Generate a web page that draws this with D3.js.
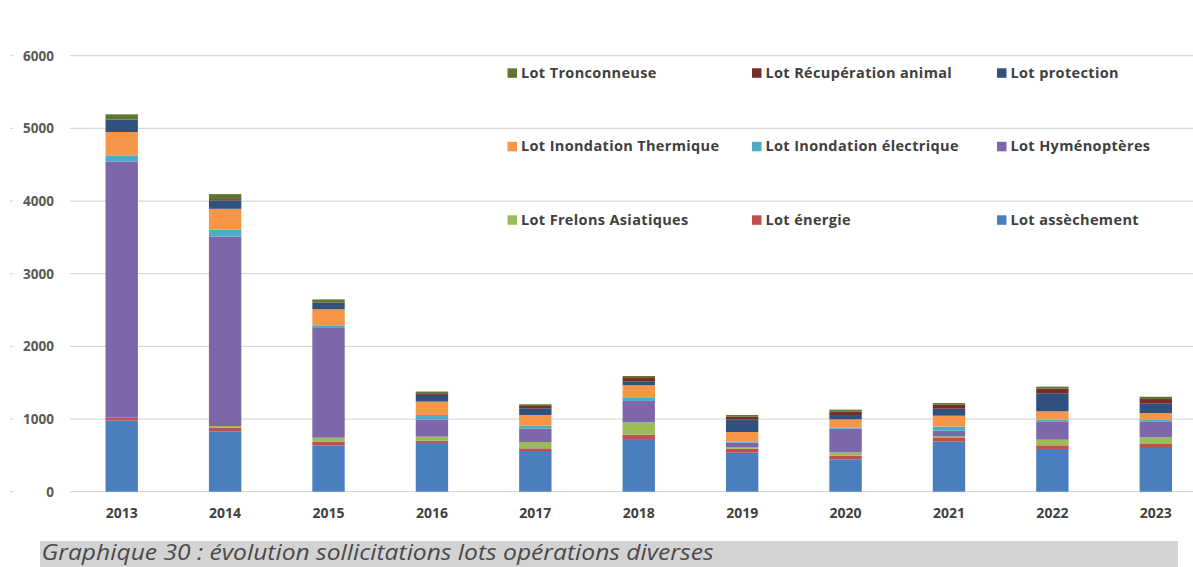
<!DOCTYPE html>
<html lang="fr">
<head>
<meta charset="utf-8">
<script src="https://cdn.jsdelivr.net/npm/d3@7"></script>
<style>
  html, body { margin: 0; padding: 0; background: #ffffff; }
  svg { display: block; }
</style>
</head>
<body>
<svg id="chart" width="1193" height="567"></svg>
<script>
// Années et sollicitations par lot (empilées de bas en haut)
const years = ["2013","2014","2015","2016","2017","2018","2019","2020","2021","2022","2023"];
const assechement    = [978, 826, 638, 671, 560, 725, 537, 445, 689, 588, 601];
const energie        = [41, 55, 50, 32, 37, 60, 55, 50, 50, 50, 55];
const frelons        = [0, 23, 55, 55, 87, 170, 18, 46, 23, 78, 92];
const hymenopteres   = [3526, 2608, 1510, 234, 184, 294, 64, 326, 78, 252, 220];
const inondElec      = [83, 92, 37, 64, 41, 41, 18, 18, 55, 23, 18];
const inondTherm     = [322, 289, 220, 184, 147, 174, 129, 110, 151, 115, 96];
const protection     = [170, 115, 87, 92, 92, 50, 170, 60, 96, 248, 129];
const recupAnimal    = [0, 18, 8, 23, 32, 50, 41, 46, 55, 64, 64];
const tronconneuse   = [73, 69, 41, 23, 23, 28, 23, 28, 23, 28, 32];
const yTicks = [0, 1000, 2000, 3000, 4000, 5000, 6000];

const series = [
  { key: "asse", name: "Lot assèchement", values: assechement, color: "#4A7EBF" },
  { key: "ener", name: "Lot énergie", values: energie, color: "#C0504D" },
  { key: "frel", name: "Lot Frelons Asiatiques", values: frelons, color: "#9BBB59" },
  { key: "hyme", name: "Lot Hyménoptères", values: hymenopteres, color: "#7D66A9" },
  { key: "inel", name: "Lot Inondation électrique", values: inondElec, color: "#4BACC6" },
  { key: "inth", name: "Lot Inondation Thermique", values: inondTherm, color: "#F79646" },
  { key: "prot", name: "Lot protection", values: protection, color: "#30507E" },
  { key: "recu", name: "Lot Récupération animal", values: recupAnimal, color: "#772C2A" },
  { key: "tron", name: "Lot Tronconneuse", values: tronconneuse, color: "#5F7530" }
];

const table = years.map((y, i) => {
  const row = { year: y };
  series.forEach(s => { row[s.key] = s.values[i]; });
  return row;
});

const svg = d3.select("#chart");
const fontBold = "'Open Sans', sans-serif";

const x = d3.scaleBand().domain(years).range([70, 1207.5]).paddingInner(0.687).paddingOuter(0.3435);
const y = d3.scaleLinear().domain([0, 6000]).range([491.7, 55.7]);

// Quadrillage horizontal
svg.append("g").selectAll("line").data(yTicks).join("line")
  .attr("x1", 70).attr("x2", 1193)
  .attr("y1", d => y(d)).attr("y2", d => y(d))
  .attr("stroke", "#d9d9d9").attr("stroke-width", 1.3);

// Axe vertical : libellés
const yAxis = d3.axisLeft(y).tickValues(yTicks).tickSize(0).tickPadding(0).tickFormat(d3.format("d"));
const gy = svg.append("g").attr("transform", "translate(54,0)").call(yAxis);
gy.select(".domain").remove();
gy.selectAll("text")
  .attr("font-family", fontBold).attr("font-weight", "bold")
  .attr("font-size", 13.5).attr("fill", "#595959");
// petits repères à gauche
svg.append("g").selectAll("line").data(yTicks).join("line")
  .attr("x1", 10).attr("x2", 13)
  .attr("y1", d => y(d)).attr("y2", d => y(d))
  .attr("stroke", "#cfcfcf").attr("stroke-width", 1);

// Barres empilées
const stacked = d3.stack().keys(series.map(s => s.key))(table);
svg.append("g").selectAll("g").data(stacked).join("g")
  .attr("fill", (d, i) => series[i].color)
  .selectAll("rect").data(d => d).join("rect")
  .attr("x", d => x(d.data.year))
  .attr("width", x.bandwidth())
  .attr("y", d => y(d[1]))
  .attr("height", d => Math.max(0, y(d[0]) - y(d[1])));

// Axe horizontal : années
const xAxis = d3.axisBottom(x).tickSize(0).tickPadding(0);
const gx = svg.append("g").attr("transform", "translate(0,517.5)").call(xAxis);
gx.select(".domain").remove();
gx.selectAll("text")
  .attr("dy", 0)
  .attr("font-family", fontBold).attr("font-weight", "bold")
  .attr("font-size", 14).attr("fill", "#404040");

// Légende sur trois lignes
const legendOrder = [
  ["tron", "recu", "prot"],
  ["inth", "inel", "hyme"],
  ["frel", "ener", "asse"]
];
const colX = [507.5, 752, 997];
const rowY = [73, 146.5, 220];
const legendItems = [];
legendOrder.forEach((row, r) => row.forEach((k, c) => {
  legendItems.push({ s: series.find(s => s.key === k), x: colX[c], y: rowY[r] });
}));
const lg = svg.append("g").selectAll("g").data(legendItems).join("g")
  .attr("transform", d => `translate(${d.x},${d.y})`);
lg.append("rect").attr("x", 0).attr("y", -4.7).attr("width", 9.5).attr("height", 9.5)
  .attr("fill", d => d.s.color);
lg.append("text").attr("x", 13.5).attr("y", 4.8)
  .attr("font-family", fontBold).attr("font-weight", "bold")
  .attr("font-size", 14.5).attr("letter-spacing", 0.35).attr("fill", "#404040")
  .text(d => d.s.name);

// Légende de figure
svg.append("rect").attr("x", 40).attr("y", 541).attr("width", 1138).attr("height", 26)
  .attr("fill", "#d3d3d3");
svg.append("text").attr("x", 41.5).attr("y", 560)
  .attr("font-family", "'Open Sans', sans-serif").attr("font-style", "italic")
  .attr("font-size", 22.5).attr("fill", "#4a4a4a")
  .attr("textLength", 672).attr("lengthAdjust", "spacingAndGlyphs")
  .text("Graphique 30 : évolution sollicitations lots opérations diverses");
</script>
</body>
</html>
